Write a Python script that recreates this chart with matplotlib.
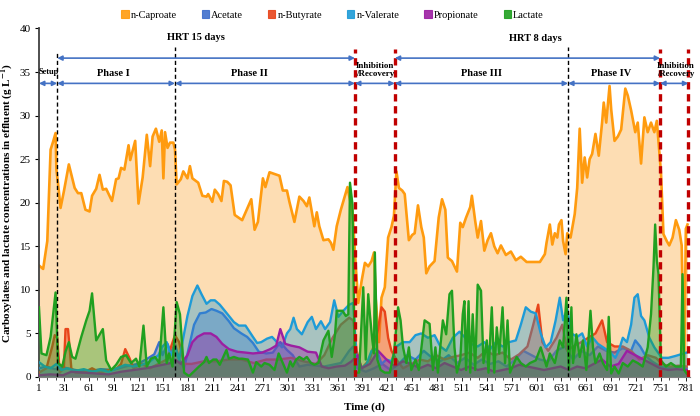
import matplotlib
matplotlib.use("Agg")
import matplotlib.pyplot as plt
from matplotlib.patches import Patch

# ---------------------------
# Data
# ---------------------------
series_names = ["n-Caproate", "Acetate", "n-Butyrate", "n-Valerate", "Propionate", "Lactate"]

cap_days = [1, 6, 11, 15, 18, 21, 22, 24, 27, 31,
            37, 44, 48, 52, 57, 62, 65, 70, 74, 78,
            82, 89, 94, 97, 100, 104, 109, 111, 117, 121,
            126, 131, 135, 138, 142, 146, 149, 151, 153, 156,
            159, 163, 165, 167, 172, 175, 180, 183, 186, 193,
            198, 203, 205, 210, 213, 217, 221, 224, 228, 232,
            237, 246, 257, 261, 265, 271, 274, 279, 291, 295,
            300, 303, 309, 315, 320, 324, 327, 333, 336, 339,
            344, 350, 353, 356, 360, 365, 373, 375, 379, 383,
            386, 390, 394, 398, 402, 405, 407, 411, 414, 418,
            422, 426, 429, 432, 435, 439, 442, 447, 451, 454,
            458, 462, 465, 468, 472, 478, 483, 487, 491, 494,
            499, 505, 509, 512, 516, 521, 523, 527, 530, 534,
            538, 542, 546, 550, 554, 558, 564, 570, 576, 582,
            589, 599, 605, 611, 613, 617, 620, 623, 626, 628,
            631, 633, 636, 638, 642, 647, 650, 653, 656, 659,
            662, 665, 668, 672, 676, 680, 682, 685, 689, 691,
            695, 699, 703, 708, 711, 715, 720, 723, 727, 731,
            735, 739, 743, 746, 749, 751, 754, 758, 761, 765,
            769, 773, 776, 778, 779, 781, 783]
cap_vals = [12.8, 12.4, 15.6, 26.1, 27.0, 28.0, 23.8, 22.2, 19.4, 21.3,
            24.4, 21.7, 21.1, 21.1, 19.2, 19.0, 20.8, 21.6, 23.2, 21.5,
            21.6, 20.2, 22.7, 22.8, 24.0, 23.8, 26.6, 24.9, 27.1, 19.9,
            22.9, 27.8, 24.2, 27.6, 28.5, 27.0, 28.3, 22.8, 28.1, 26.3,
            26.9, 26.9, 26.1, 22.1, 22.7, 23.6, 22.8, 24.2, 22.8, 22.3,
            20.8, 20.7, 21.0, 20.1, 21.5, 21.0, 20.2, 22.5, 22.4, 22.0,
            18.6, 18.0, 20.4, 16.9, 17.8, 22.8, 21.8, 23.5, 23.1, 21.4,
            21.4, 20.1, 17.8, 20.7, 20.2, 19.6, 20.6, 17.3, 18.9, 17.3,
            15.7, 15.8, 15.4, 14.6, 17.3, 19.2, 21.8, 20.8, 19.0, 12.7,
            8.5, 11.0, 13.1, 12.7, 13.3, 14.3, 9.0, 4.0, 9.1, 10.3,
            16.0, 17.2, 18.5, 23.6, 21.7, 21.4, 21.0, 15.7, 16.3, 16.5,
            19.7, 17.2, 16.0, 11.9, 12.7, 13.3, 18.3, 20.4, 19.2, 13.7,
            13.3, 12.1, 17.7, 17.2, 18.3, 19.5, 20.8, 17.9, 16.0, 17.9,
            14.5, 15.7, 16.5, 15.0, 14.2, 15.1, 14.0, 14.4, 13.4, 13.8,
            13.2, 13.2, 13.2, 14.1, 15.4, 17.5, 15.2, 16.5, 16.0, 17.5,
            18.0, 15.6, 14.1, 16.5, 16.0, 18.7, 21.7, 28.5, 22.3, 25.2,
            22.9, 25.0, 25.6, 27.9, 25.4, 29.2, 31.5, 29.2, 33.4, 30.7,
            27.1, 27.6, 28.4, 33.1, 32.3, 30.6, 28.1, 29.2, 24.5, 29.8,
            28.1, 29.2, 28.1, 29.4, 25.8, 23.5, 16.4, 15.6, 15.1, 16.0,
            18.0, 16.9, 15.1, 6.0, 0.9, 17.0, 17.5]

ace_days = [1, 10, 20, 30, 45, 60, 75, 90, 105, 120,
            130, 140, 146, 150, 156, 160, 165, 170, 176, 182,
            188, 195, 202, 209, 215, 222, 230, 236, 245, 252,
            259, 266, 275, 283, 292, 300, 307, 315, 325, 335,
            345, 355, 365, 375, 380, 385, 395, 405, 415, 425,
            435, 445, 455, 465, 475, 485, 495, 505, 515, 525,
            535, 545, 555, 565, 575, 585, 595, 605, 615, 625,
            635, 645, 655, 665, 675, 685, 695, 705, 715, 720,
            726, 732, 740, 750, 760, 770, 782]
ace_vals = [1.0, 1.2, 0.9, 1.1, 0.8, 0.6, 0.9, 0.8, 1.2, 1.5,
            2.0, 2.6, 4.0, 2.5, 3.8, 2.8, 3.8, 2.0, 1.0, 3.5,
            6.0, 7.3, 7.4, 7.8, 7.6, 7.3, 6.4, 5.6, 5.0, 4.6,
            3.9, 2.9, 2.7, 2.8, 4.0, 3.1, 2.5, 1.2, 1.4, 1.3,
            1.2, 1.4, 1.6, 3.0, 3.5, 1.0, 0.6, 1.0, 1.5, 0.8,
            1.5, 2.5, 2.0, 3.0, 2.2, 1.8, 2.5, 1.6, 2.2, 1.4,
            2.0, 1.5, 1.8, 1.2, 2.0, 3.0, 2.5, 2.0, 1.8, 3.0,
            3.5, 2.0, 3.0, 2.5, 3.5, 3.0, 2.8, 3.3, 3.0, 4.2,
            3.5, 2.5, 1.8, 1.2, 1.0, 1.2, 1.0]

but_days = [1, 10, 17, 20, 23, 26, 31, 33, 36, 40,
            45, 55, 65, 75, 85, 95, 100, 105, 110, 115,
            125, 135, 145, 155, 165, 170, 176, 185, 200, 215,
            230, 245, 260, 275, 290, 305, 320, 335, 345, 355,
            365, 375, 380, 384, 390, 400, 410, 414, 418, 422,
            426, 432, 440, 450, 460, 470, 480, 490, 500, 510,
            520, 530, 540, 550, 560, 570, 580, 590, 597, 603,
            608, 615, 625, 632, 638, 645, 655, 665, 672, 680,
            686, 695, 705, 715, 725, 735, 745, 752, 762, 772,
            782]
but_vals = [0.5, 1.0, 3.5, 4.8, 4.5, 0.5, 1.0, 5.5, 5.5, 1.0,
            0.5, 0.5, 1.0, 0.5, 0.8, 1.0, 1.5, 3.2, 2.2, 1.0,
            1.5, 1.0, 1.5, 2.0, 4.8, 4.0, 1.5, 1.5, 1.8, 1.8,
            2.0, 2.0, 1.6, 2.0, 2.0, 2.2, 1.8, 1.5, 2.5, 4.5,
            6.0, 6.8, 6.5, 3.0, 1.0, 2.0, 5.5, 8.0, 7.5, 4.5,
            3.0, 2.0, 1.0, 1.5, 2.0, 1.8, 2.5, 2.0, 2.3, 2.5,
            2.8, 2.2, 3.0, 2.5, 2.8, 2.0, 2.6, 3.5, 6.0, 8.3,
            4.0, 3.0, 4.5, 6.0, 3.0, 3.5, 4.0, 4.6, 5.0, 6.5,
            4.0, 3.5, 3.5, 3.0, 2.0, 2.5, 2.2, 1.5, 1.2, 1.3,
            1.2]

val_days = [1, 8, 15, 22, 28, 35, 45, 55, 65, 75,
            85, 95, 105, 115, 125, 135, 145, 150, 155, 160,
            165, 170, 175, 180, 186, 192, 197, 203, 208, 213,
            219, 225, 236, 242, 250, 259, 264, 269, 276, 282,
            288, 294, 300, 304, 308, 312, 318, 325, 330, 335,
            341, 346, 352, 357, 362, 368, 375, 380, 384, 390,
            396, 402, 408, 414, 420, 426, 432, 440, 448, 455,
            462, 470, 478, 485, 492, 500, 508, 515, 522, 530,
            538, 545, 552, 560, 568, 576, 582, 588, 594, 600,
            606, 612, 618, 624, 629, 633, 638, 643, 650, 656,
            662, 668, 675, 683, 690, 696, 700, 705, 710, 715,
            719, 723, 727, 731, 737, 743, 749, 752, 760, 768,
            775, 782]
val_vals = [1.7, 1.2, 1.0, 1.5, 0.8, 1.0, 0.7, 0.9, 0.6, 0.8,
            0.6, 1.0, 1.4, 1.2, 1.4, 1.8, 2.5, 3.5, 4.0, 2.5,
            3.5, 2.0, 4.5, 7.0, 9.3, 10.5, 9.5, 8.4, 8.8, 8.8,
            8.3, 7.6, 6.3, 5.9, 5.9, 4.6, 3.9, 4.0, 4.4, 4.6,
            4.0, 3.4, 5.0, 5.5, 6.8, 5.5, 4.9, 6.3, 6.9, 5.5,
            6.4, 5.5, 6.3, 8.8, 6.9, 7.6, 8.3, 8.5, 2.0, 1.0,
            1.5, 3.0, 3.2, 1.5, 2.0, 1.8, 3.5, 4.0, 4.0, 4.8,
            5.0, 4.5, 4.8, 3.5, 3.0, 4.5, 5.2, 4.5, 3.8, 3.5,
            4.0, 3.2, 4.0, 3.5, 4.0, 4.2, 6.0, 8.0, 7.5, 7.3,
            5.0, 3.4, 4.0, 6.5, 9.1, 6.5, 7.8, 5.0, 4.6, 5.0,
            3.5, 4.6, 3.8, 3.3, 2.8, 2.2, 3.0, 4.5, 4.0, 6.0,
            9.1, 9.5, 7.0, 6.5, 4.5, 3.4, 2.6, 2.2, 2.2, 2.4,
            2.6, 2.8]

pro_days = [1, 15, 30, 40, 55, 70, 85, 100, 115, 130,
            145, 160, 165, 172, 180, 186, 192, 200, 208, 215,
            222, 230, 240, 250, 259, 270, 280, 287, 292, 298,
            305, 315, 325, 335, 342, 350, 360, 370, 378, 385,
            390, 400, 410, 420, 430, 440, 450, 460, 470, 480,
            490, 500, 510, 520, 530, 540, 550, 560, 570, 580,
            590, 600, 610, 620, 630, 640, 650, 660, 670, 680,
            690, 700, 710, 720, 730, 740, 750, 760, 770, 782]
pro_vals = [0.2, 0.3, 0.2, 0.6, 0.5, 0.4, 0.3, 0.6, 0.8, 1.0,
            1.3, 1.6, 2.0, 1.5, 2.5, 4.0, 4.6, 5.0, 5.0, 4.6,
            3.8, 3.2, 2.9, 2.8, 2.7, 2.8, 3.2, 3.6, 5.5, 3.8,
            3.6, 3.4, 2.9, 2.8, 1.2, 1.0, 1.2, 1.3, 1.8, 2.5,
            1.0, 1.5, 3.0, 2.0, 1.2, 1.8, 1.5, 1.0, 1.4, 1.0,
            1.6, 1.2, 0.8, 1.2, 0.8, 1.0, 0.6, 0.8, 1.0, 1.4,
            1.2, 1.0, 0.8, 1.0, 1.2, 0.8, 1.2, 1.0, 1.5, 2.0,
            1.2, 1.5, 3.0, 2.5, 2.0, 1.5, 1.0, 0.8, 0.9, 0.8]

lac_days = [1, 4, 10, 15, 21, 24, 29, 33, 37, 41,
            45, 52, 58, 62, 65, 70, 78, 82, 88, 94,
            100, 106, 112, 118, 122, 127, 131, 136, 141, 146,
            151, 155, 158, 162, 167, 171, 176, 182, 194, 200,
            203, 206, 211, 215, 219, 227, 230, 236, 242, 246,
            253, 259, 263, 269, 273, 279, 285, 290, 295, 300,
            304, 307, 311, 315, 320, 324, 329, 333, 338, 344,
            350, 354, 358, 360, 367, 371, 374, 376, 379, 382,
            387, 392, 395, 398, 400, 403, 405, 406, 409, 413,
            418, 424, 429, 434, 437, 440, 444, 447, 450, 455,
            459, 466, 472, 476, 479, 482, 488, 492, 496, 499,
            502, 505, 509, 512, 514, 516, 519, 521, 524, 527,
            530, 534, 537, 541, 543, 547, 550, 553, 556, 560,
            563, 566, 569, 572, 577, 582, 588, 593, 600, 606,
            613, 617, 623, 629, 633, 637, 640, 643, 645, 649,
            653, 657, 661, 666, 669, 672, 677, 681, 686, 688,
            691, 695, 700, 705, 711, 717, 723, 729, 735, 739,
            742, 744, 746, 748, 751, 757, 763, 769, 775, 777,
            779, 782]
lac_vals = [8.0, 2.7, 2.5, 4.6, 9.7, 1.6, 1.2, 2.9, 4.0, 2.3,
            2.1, 4.6, 6.5, 7.6, 9.6, 4.2, 5.5, 1.9, 0.8, 1.4,
            2.3, 2.5, 1.6, 2.1, 1.2, 5.9, 1.2, 2.1, 2.3, 1.6,
            8.0, 1.6, 2.7, 1.2, 8.6, 7.2, 0.5, 0.1, 1.2, 1.7,
            2.3, 1.6, 2.0, 2.0, 1.4, 3.1, 2.1, 2.3, 2.1, 2.1,
            2.0, 0.5, 1.7, 1.2, 1.6, 1.4, 0.8, 2.7, 1.6, 0.5,
            1.8, 1.2, 2.0, 2.3, 2.0, 2.3, 1.6, 1.4, 1.6, 4.2,
            5.3, 2.3, 4.9, 7.6, 7.6, 7.0, 7.2, 22.3, 19.8, 0.5,
            0.5, 10.3, 2.0, 9.5, 7.2, 4.2, 2.7, 14.3, 2.0, 0.8,
            0.5, 0.5, 2.7, 8.0, 6.5, 3.4, 1.6, 3.4, 0.8, 2.0,
            0.8, 6.5, 6.1, 0.8, 3.4, 0.5, 6.5, 4.9, 9.5, 9.9,
            3.4, 0.5, 2.0, 7.2, 8.7, 0.8, 8.7, 0.5, 7.2, 0.8,
            10.6, 9.9, 1.6, 4.2, 0.5, 8.0, 0.5, 5.7, 2.7, 8.0,
            1.6, 6.5, 0.5, 1.2, 2.3, 1.6, 1.2, 1.6, 1.9, 3.4,
            1.2, 2.7, 1.6, 4.2, 3.4, 9.1, 0.8, 8.0, 1.6, 4.9,
            2.3, 4.2, 0.8, 7.6, 3.4, 1.6, 2.7, 1.6, 0.8, 6.9,
            0.4, 1.2, 0.4, 1.6, 1.2, 1.9, 1.6, 1.2, 3.4, 7.2,
            12.6, 17.5, 13.4, 11.8, 1.9, 1.2, 1.6, 1.2, 1.2, 11.8,
            0.8, 0.4]

line_colors = ["#FF9B0F", "#3F6FCC", "#E8441A", "#1E9BD7", "#9C1FA2", "#20A020"]
x_ticks = list(range(1, 782, 30))

# phase boundaries (days)
setup_end = 23
phase1_end = 165
phase2_end = 382
recov1_end = 430
phase3_end = 639
phase4_end = 750
recov2_end = 784

# ---------------------------
# Style
# ---------------------------
plt.rcParams.update({
    "font.family": ["Liberation Serif", "DejaVu Serif"],
    "mathtext.fontset": "stix",
    "font.size": 8,
    "xtick.labelsize": 8,
    "ytick.labelsize": 8,
})

fig = plt.figure(figsize=(7, 4.16), dpi=100)
ax = fig.add_axes([0.0557, 0.0938, 0.930, 0.8377])

data = [(cap_days, cap_vals), (ace_days, ace_vals), (but_days, but_vals),
        (val_days, val_vals), (pro_days, pro_vals), (lac_days, lac_vals)]

for i, ((d, v), c) in enumerate(zip(data, line_colors)):
    if i == 0:
        ax.fill_between(d, v, 0, color="#FDDDB3", lw=0, zorder=1)
        ax.plot(d, v, color=c, lw=1.9, zorder=2, solid_joinstyle="round")
    else:
        ax.fill_between(d, v, 0, color=c, alpha=0.38, lw=0, zorder=1 + i)
        ax.plot(d, v, color=c, lw=1.7, zorder=2 + i, solid_joinstyle="round")

# vertical phase lines
ax.plot([setup_end, setup_end], [0, 37.2], color="black", lw=1.0, ls=(0, (3, 2)), zorder=20)
for d in [phase1_end, phase3_end]:
    ax.plot([d, d], [0, 37.9], color="black", lw=1.0, ls=(0, (3, 2)), zorder=20)
for d in [phase2_end, recov1_end, phase4_end, recov2_end]:
    ax.plot([d, d], [0, 37.6], color="#C00000", lw=2.4, ls=(0, (2.2, 1.4)),
            zorder=21, clip_on=False)

# arrows
arrow_kw = dict(arrowstyle="<|-|>", color="#4472C4", lw=1.2, mutation_scale=7,
                shrinkA=0, shrinkB=0)
for a, b in [(setup_end, phase2_end), (recov1_end, phase4_end)]:
    ax.annotate("", xy=(b, 36.6), xytext=(a, 36.6), arrowprops=arrow_kw,
                annotation_clip=False, zorder=22)
for a, b in [(1, setup_end), (setup_end, phase1_end), (phase1_end, phase2_end),
             (phase2_end, recov1_end), (recov1_end, phase3_end),
             (phase3_end, phase4_end), (phase4_end, recov2_end)]:
    ax.annotate("", xy=(b, 33.7), xytext=(a, 33.7), arrowprops=arrow_kw,
                annotation_clip=False, zorder=22)

bold = dict(fontweight="bold", ha="center", va="center", zorder=23)
ax.text(190, 39.0, "HRT 15 days", fontsize=7.5, **bold)
ax.text(599, 38.8, "HRT 8 days", fontsize=7.5, **bold)
ax.text(13, 35.0, "Setup", fontsize=6, **bold)
ax.text(91, 34.8, "Phase I", fontsize=7.5, **bold)
ax.text(255, 34.8, "Phase II", fontsize=7.5, **bold)
ax.text(535, 34.8, "Phase III", fontsize=7.5, **bold)
ax.text(691, 34.8, "Phase IV", fontsize=7.5, **bold)
ax.text(406, 35.2, "Inhibition\n/Recovery", fontsize=6.5, linespacing=0.95,
        clip_on=False, **bold)
ax.text(769, 35.2, "Inhibition\n/Recovery", fontsize=6.3, linespacing=0.95,
        clip_on=False, **bold)

# axes
ax.set_xlim(1, 786)
ax.set_ylim(0, 40)
ax.set_yticks(range(0, 41, 5))
ax.set_xticks(x_ticks)
ax.set_xticks(range(11, 786, 10), minor=True)
ax.tick_params(axis="y", direction="out", length=3, width=0.8, pad=3)
ax.tick_params(axis="x", which="major", direction="out", length=3, width=0.6, pad=2)
ax.tick_params(axis="x", which="minor", direction="out", length=2, width=0.5)
for s in ["top", "right"]:
    ax.spines[s].set_visible(False)
ax.spines["left"].set_color("#404040")
ax.spines["left"].set_linewidth(1.3)
ax.spines["bottom"].set_color("#7F7F7F")
ax.spines["bottom"].set_linewidth(0.8)
ax.spines["bottom"].set_zorder(30)

ax.set_xlabel("Time (d)", fontsize=8, fontweight="bold", labelpad=7)
ax.set_ylabel(r"Carboxylates and lactate concentrations in effluent (g L$^{\mathbf{-1}}$)",
              fontsize=8, fontweight="bold", labelpad=3)

# legend
handles = [Patch(facecolor=c, edgecolor=c, alpha=0.9, lw=0.8) for c in line_colors]
fig.legend(handles, series_names, loc="center", bbox_to_anchor=(0.475, 0.964),
           ncol=6, frameon=False, fontsize=7.5, handlelength=0.7, handleheight=0.7,
           handletextpad=0.2, columnspacing=2.4, borderaxespad=0)

fig.savefig("out.png", dpi=100)
